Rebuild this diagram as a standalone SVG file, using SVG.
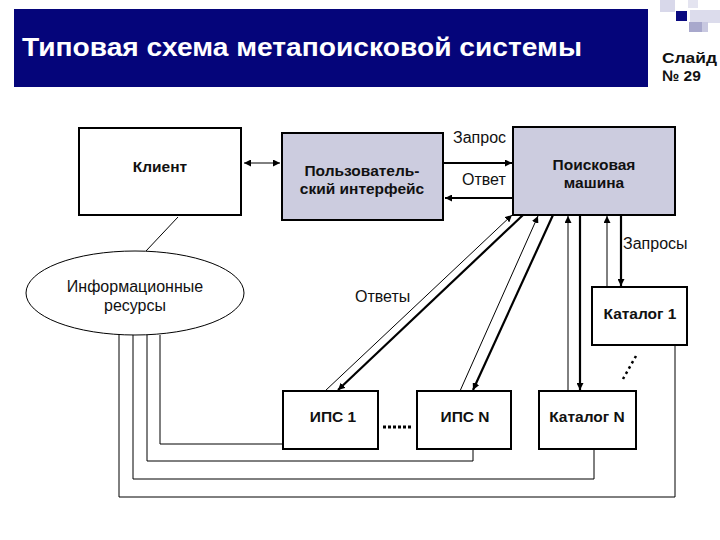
<svg xmlns="http://www.w3.org/2000/svg" width="720" height="540" viewBox="0 0 720 540">
<defs>
<marker id="ah" viewBox="0 0 10 10" refX="10" refY="5" markerWidth="7" markerHeight="7" markerUnits="userSpaceOnUse" orient="auto-start-reverse">
<path d="M0,0 L10,5 L0,10 z" fill="#000"/>
</marker>
<style>
.box{fill:#fff;stroke:#000;stroke-width:2}
.pbox{fill:#ccccdf;stroke:#000;stroke-width:2}
.bl{font-family:"Liberation Sans",Arial,sans-serif;font-size:15.5px;font-weight:bold;fill:#111;text-anchor:middle}
.nl{font-family:"Liberation Sans",Arial,sans-serif;font-size:16px;fill:#111}
.thin{stroke:#000;stroke-width:1;fill:none}
.thick{stroke:#000;stroke-width:2.2;fill:none}
.sl{font-family:"Liberation Sans",Arial,sans-serif;font-size:15.5px;font-weight:bold;fill:#111}
</style>
</defs>
<rect width="720" height="540" fill="#fff"/>
<g id="header">
<rect x="14" y="9" width="634" height="78" fill="#05057a"/>
<text x="22" y="56" font-family="'Liberation Sans',Arial,sans-serif" font-size="25" font-weight="bold" fill="#fff" textLength="560" lengthAdjust="spacingAndGlyphs">Типовая схема метапоисковой системы</text>
<rect x="660" y="0" width="15" height="12" fill="#d8d8ea"/>
<rect x="676" y="11" width="11" height="10" fill="#0a0a80"/>
<rect x="688" y="0" width="10" height="8" fill="#e4e4f0"/>
<rect x="690" y="10" width="30" height="13" fill="#dcdcec"/>
<rect x="689" y="22" width="13" height="10" fill="#a8a8cc"/>
<rect x="702" y="22" width="6" height="10" fill="#c8c8e0"/>
<text class="sl" x="662" y="63" textLength="55" lengthAdjust="spacingAndGlyphs">Слайд</text>
<text class="sl" x="662" y="81">№ 29</text>
</g>
<g id="connectors">
<line class="thin" x1="244" y1="163" x2="280" y2="163" marker-start="url(#ah)" marker-end="url(#ah)"/>
<line class="thick" x1="444" y1="163" x2="512" y2="163" marker-end="url(#ah)"/>
<line class="thick" x1="513" y1="198" x2="445" y2="198" marker-end="url(#ah)"/>
<line class="thin" x1="178" y1="217" x2="146" y2="251" stroke="#333"/>
<line class="thin" x1="325" y1="391" x2="512" y2="215" marker-end="url(#ah)"/>
<line class="thick" x1="523" y1="215" x2="338" y2="390" marker-end="url(#ah)"/>
<line class="thin" x1="460" y1="391" x2="538" y2="216" marker-end="url(#ah)"/>
<line class="thick" x1="553" y1="215" x2="473" y2="390" marker-end="url(#ah)"/>
<line class="thin" x1="568" y1="391" x2="568" y2="216" marker-end="url(#ah)"/>
<line class="thick" x1="580" y1="215" x2="580" y2="390" marker-end="url(#ah)"/>
<line class="thin" x1="607" y1="287" x2="607" y2="216" marker-end="url(#ah)"/>
<line class="thick" x1="621" y1="215" x2="621" y2="286" marker-end="url(#ah)"/>
<polyline class="thin" points="160,335 160,444 283,444"/>
<polyline class="thin" points="147,335 147,461 473,461 473,449"/>
<polyline class="thin" points="133,334 133,479 594,479 594,449"/>
<polyline class="thin" points="119,333 119,497 675,497 675,345"/>
<line x1="383" y1="427" x2="411" y2="427" stroke="#000" stroke-width="3" stroke-dasharray="3,2"/>
<line x1="636" y1="356" x2="623" y2="379" stroke="#000" stroke-width="2.5" stroke-dasharray="2.5,3.5"/>
<text class="nl" x="453" y="143">Запрос</text>
<text class="nl" x="462" y="185">Ответ</text>
<text class="nl" x="355" y="302">Ответы</text>
<text class="nl" x="623" y="249">Запросы</text>
</g>
<g id="client">
<rect class="box" x="79" y="128" width="162" height="87"/>
<text class="bl" x="160" y="172">Клиент</text>
</g>
<g id="ui">
<rect class="pbox" x="282" y="133" width="161" height="87"/>
<text class="bl" x="362" y="176">Пользователь-</text>
<text class="bl" x="362" y="194">ский интерфейс</text>
</g>
<g id="engine">
<rect class="pbox" x="513" y="127" width="162" height="88"/>
<text class="bl" x="594" y="170">Поисковая</text>
<text class="bl" x="594" y="188">машина</text>
</g>
<g id="resources">
<ellipse cx="135" cy="293" rx="109" ry="42" fill="#fff" stroke="#000" stroke-width="1"/>
<text class="nl" x="135" y="292" text-anchor="middle">Информационные</text>
<text class="nl" x="135" y="311" text-anchor="middle">ресурсы</text>
</g>
<g id="catalog1">
<rect class="box" x="592" y="287" width="95" height="58"/>
<text class="bl" x="640" y="319">Каталог 1</text>
</g>
<g id="ips1">
<rect class="box" x="283" y="391" width="95" height="58"/>
<text class="bl" x="333" y="422">ИПС 1</text>
</g>
<g id="ipsN">
<rect class="box" x="417" y="391" width="94" height="58"/>
<text class="bl" x="465" y="422">ИПС N</text>
</g>
<g id="catalogN">
<rect class="box" x="539" y="391" width="97" height="58"/>
<text class="bl" x="587" y="422">Каталог N</text>
</g>
</svg>
